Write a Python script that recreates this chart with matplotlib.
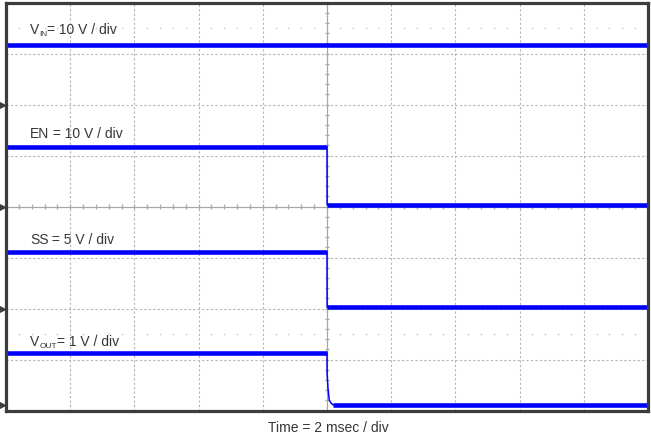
import numpy as np
import matplotlib
matplotlib.use("Agg")
import matplotlib.pyplot as plt

plt.rcParams['font.family'] = ['Liberation Sans', 'DejaVu Sans']

# ---- data (time in ms, 2 ms/div, edge at t = 0) ----
channel_names = ["VIN", "EN", "SS", "VOUT"]
label_main = ["V", "EN", "SS", "V"]
label_sub = ["IN", "", "", "OUT"]
label_rest = ["= 10 V / div", " = 10 V / div", " = 5 V / div", "= 1 V / div"]
volts_per_div = [10, 10, 5, 1]
ground_div = [6.0, 4.0, 2.0, 0.1]

vin_t = [-10.0, 10.0]
vin_v = [11.7, 11.7]

en_t = [-10.0, 0.0, 0.004, 10.0]
en_v = [11.6, 11.6, 0.3, 0.3]

ss_t = [-10.0, 0.0, 0.004, 10.0]
ss_v = [5.55, 5.55, 0.12, 0.12]

vout_t = [-10.0, 0.0, 0.003, 0.03, 0.07, 0.125, 0.19, 10.0]
vout_v = [1.03, 1.03, 0.635, 0.34, 0.106, 0.047, 0.01, 0.01]

time_label = "Time = 2 msec / div"

W, H = 651, 434
fig = plt.figure(figsize=(W / 100, H / 100), dpi=100)
x0, x1, y0, y1 = 6, 648, 2.5, 410.5
ax = fig.add_axes([x0 / W, 1 - y1 / H, (x1 - x0) / W, (y1 - y0) / H])
ax.set_xlim(-10, 10)
ax.set_ylim(0, 8)
ax.set_xticks([])
ax.set_yticks([])
for s in ax.spines.values():
    s.set_linewidth(2.3)
    s.set_color('#3c3c3c')
    s.set_zorder(10)

grid_c = '#b4b4b4'
for xv in np.arange(-8, 9, 2):
    if xv == 0:
        continue
    ax.axvline(xv, color=grid_c, lw=0.8, ls=(0, (2, 2)), zorder=1)
for yv in range(1, 8):
    if yv == 4:
        continue
    ax.axhline(yv, color=grid_c, lw=0.8, ls=(0, (2, 2)), zorder=1)
# center lines with minor ticks
cc = '#a8a8a8'
ax.axvline(0, color=cc, lw=0.9, zorder=1)
ax.axhline(4, color=cc, lw=0.9, zorder=1)
tx = np.arange(-10, 10.01, 0.4)
ax.vlines(tx, 4 - 0.045, 4 + 0.045, color=cc, lw=0.9, zorder=1)
ty = np.arange(0, 8.01, 0.2)
ax.hlines(ty, -0.07, 0.07, color=cc, lw=0.9, zorder=1)
# half-division dot rows
dx = np.array([v for v in np.arange(-9.6, 10, 0.4) if abs(v / 2 - round(v / 2)) > 1e-6])
for yr in (7.5, 1.5):
    ax.plot(dx, np.full_like(dx, yr), ls='none', marker='s', ms=1.0,
            color='#c4c4c4', mec='none', zorder=1)

blue = '#0000ff'
series = [(vin_t, vin_v), (en_t, en_v), (ss_t, ss_v), (vout_t, vout_v)]
for (t, v), g, s in zip(series, ground_div, volts_per_div):
    t = np.array(t)
    y = g + np.array(v) / s
    ax.plot(t, y, color=blue, lw=1.1, zorder=5, solid_capstyle='butt')
    for i in range(len(t) - 1):
        if y[i] == y[i + 1]:
            ax.plot(t[i:i + 2], y[i:i + 2], color=blue, lw=3.3, zorder=5,
                    solid_capstyle='butt')
    # channel ground marker
    ax.plot([-10.13], [g], marker='>', ms=4, color='#3c3c3c', clip_on=False, zorder=11)

# labels
txt_c = '#363636'
fs = 10.0
label_baselines = [33.5, 138.5, 244, 346.5]
fig.canvas.draw()
r = fig.canvas.get_renderer()
for m, sb, rest, yb in zip(label_main, label_sub, label_rest, label_baselines):
    xp = 30.0
    t1 = fig.text(xp / W, 1 - yb / H, m, fontsize=fs, color=txt_c, ha='left', va='baseline')
    xp += t1.get_window_extent(r).width
    if sb:
        t2 = fig.text(xp / W, 1 - (yb + 2.0) / H, sb, fontsize=6.0, color=txt_c,
                      ha='left', va='baseline')
        xp += t2.get_window_extent(r).width
    fig.text(xp / W, 1 - yb / H, rest, fontsize=fs, color=txt_c, ha='left', va='baseline')
fig.text(328 / W, 1 - 432 / H, time_label, fontsize=fs, color=txt_c,
         ha='center', va='baseline')

fig.savefig("out.png", dpi=100)
